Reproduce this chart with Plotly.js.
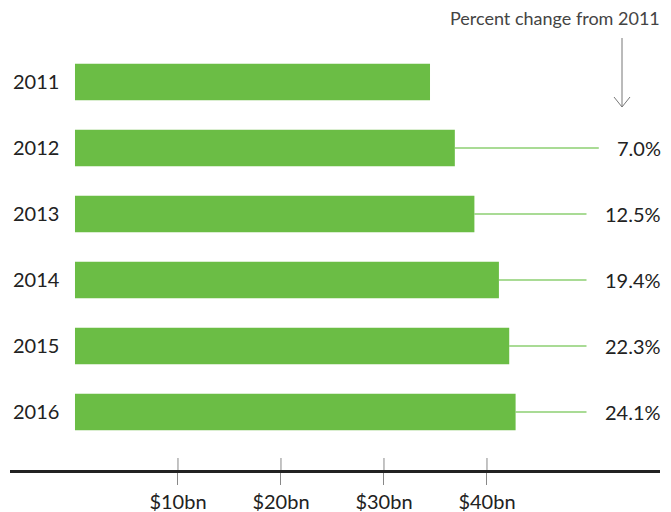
<!DOCTYPE html>
<html><head><meta charset="utf-8">
<script src="https://cdn.plot.ly/plotly-3.0.1.min.js"></script>
<style>body{margin:0;background:#fff}#c{width:671px;height:512px}</style>
</head><body><div id="c"></div>
<script>
var years = ['2011','2012','2013','2014','2015','2016'];
var spending = [34.47, 36.88, 38.78, 41.16, 42.16, 42.78];
var pctChange = ['', '7.0%', '12.5%', '19.4%', '22.3%', '24.1%'];
var tickValues = [10, 20, 30, 40];
var tickLabels = ['$10bn', '$20bn', '$30bn', '$40bn'];

var W = 671, H = 512, L = 10, R = 11, T = 30, B = 42;
var xr = [-6.31, 56.8];
var pxPerUnit = (W - L - R) / (xr[1] - xr[0]);
function px2paperX(p){ return (p - L) / (W - L - R); }
function px2paperY(p){ return (H - B - p) / (H - T - B); }

var idx = years.map(function(_, i){ return i; });
var font = 'Lato, "Open Sans", sans-serif';
var green = '#6bbd45';

var shapes = [];
var annotations = [];
idx.forEach(function(i){
  if (!pctChange[i]) return;
  var textW = pctChange[i].length * 12.3;
  var endPx = W - R - textW - 12;
  var endData = xr[0] + (endPx - L) / pxPerUnit;
  shapes.push({type:'line', xref:'x', yref:'y', x0:spending[i], x1:endData, y0:i, y1:i,
    line:{color:'#8ccf72', width:1.5}, layer:'below'});
  annotations.push({xref:'paper', yref:'y', x:1.004, y:i, xanchor:'right', yanchor:'middle',
    text:pctChange[i], showarrow:false, font:{family:font, size:20, color:'#222'}});
});
tickValues.forEach(function(v){
  shapes.push({type:'line', xref:'x', yref:'paper', x0:v, x1:v, y0:0, y1:px2paperY(458),
    line:{color:'#888', width:1}});
});
annotations.push({xref:'paper', yref:'paper', x:1.003, y:px2paperY(18), xanchor:'right', yanchor:'middle',
  text:'Percent change from 2011', showarrow:false, font:{family:font, size:18, color:'#444'}});
// arrow below header
shapes.push({type:'line', xref:'paper', yref:'paper', x0:px2paperX(622), x1:px2paperX(622), y0:px2paperY(38), y1:px2paperY(107), line:{color:'#777', width:1}});
shapes.push({type:'line', xref:'paper', yref:'paper', x0:px2paperX(614), x1:px2paperX(622), y0:px2paperY(97), y1:px2paperY(107), line:{color:'#777', width:1}});
shapes.push({type:'line', xref:'paper', yref:'paper', x0:px2paperX(630), x1:px2paperX(622), y0:px2paperY(97), y1:px2paperY(107), line:{color:'#777', width:1}});

var trace = {type:'bar', orientation:'h', x:spending, y:idx, width:0.55,
  marker:{color:green}, hoverinfo:'none'};

var layout = {
  width:W, height:H, margin:{l:L, r:R, t:T, b:B},
  paper_bgcolor:'#fff', plot_bgcolor:'#fff', showlegend:false,
  xaxis:{range:xr, showgrid:false, zeroline:false, showline:true, linecolor:'#222', linewidth:3,
    tickvals:tickValues, ticktext:tickLabels, ticks:'outside', ticklen:12, tickcolor:'#888', tickwidth:1,
    tickfont:{family:font, size:20, color:'#222'}, fixedrange:true},
  yaxis:{range:[5.879, -0.788], showgrid:false, zeroline:false, showline:false,
    tickvals:idx, ticktext:years, ticks:'', ticklabelposition:'inside',
    tickfont:{family:font, size:20, color:'#222'}, fixedrange:true},
  shapes:shapes, annotations:annotations
};
Plotly.newPlot('c', [trace], layout, {displayModeBar:false, staticPlot:true});
</script></body></html>
